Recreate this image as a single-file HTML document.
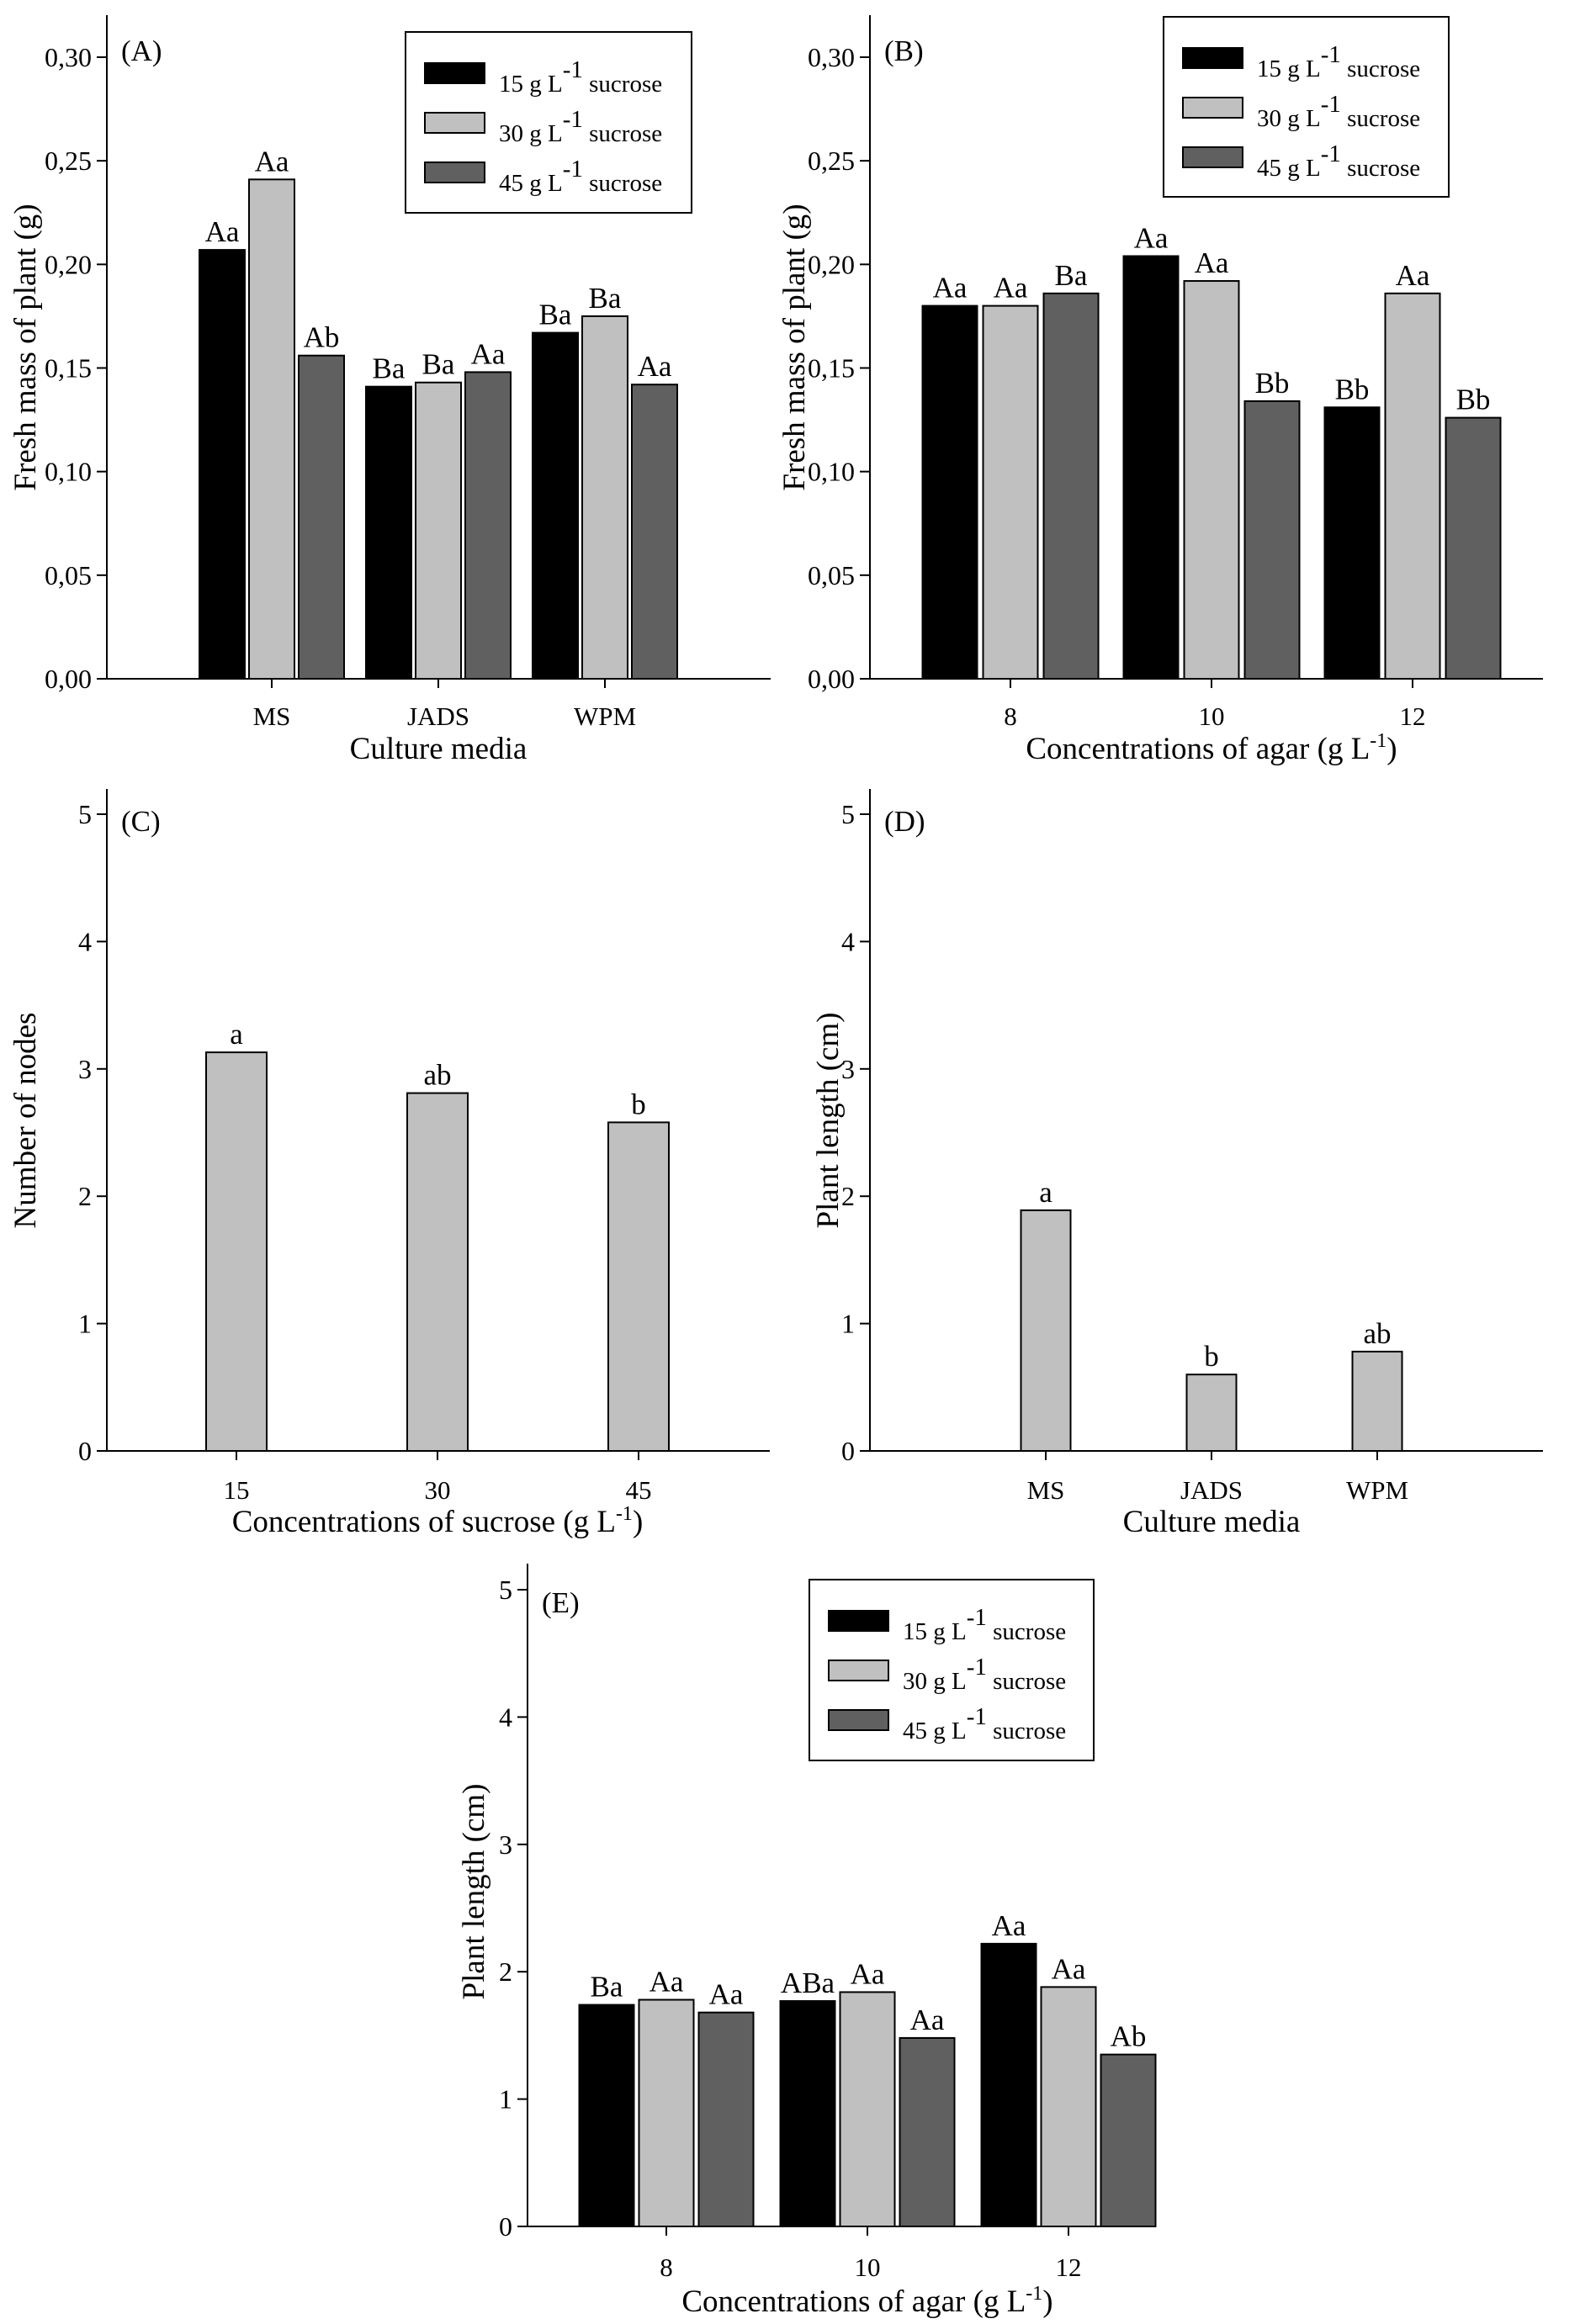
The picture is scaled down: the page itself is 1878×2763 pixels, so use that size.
<!DOCTYPE html>
<html><head><meta charset="utf-8"><style>
html,body{margin:0;padding:0;background:#fff}
svg{display:block;font-family:"Liberation Serif",serif}
</style></head><body>
<svg id="fig" width="1878" height="2763" viewBox="0 0 1878 2763" xmlns="http://www.w3.org/2000/svg"></svg>
<script>
// ---- data ----
const seriesNames = ["15 g L", "30 g L", "45 g L"];
const catsMedia = ["MS", "JADS", "WPM"];
const catsAgar = ["8", "10", "12"];
const catsSucrose = ["15", "30", "45"];
const ticksMass = ["0,00","0,05","0,10","0,15","0,20","0,25","0,30"];
const ticksInt = ["0","1","2","3","4","5"];
const aS15 = [0.207, 0.141, 0.167];
const aS30 = [0.241, 0.143, 0.175];
const aS45 = [0.156, 0.148, 0.142];
const aLbl15 = ["Aa","Ba","Ba"];
const aLbl30 = ["Aa","Ba","Ba"];
const aLbl45 = ["Ab","Aa","Aa"];
const bS15 = [0.180, 0.204, 0.131];
const bS30 = [0.180, 0.192, 0.186];
const bS45 = [0.186, 0.134, 0.126];
const bLbl15 = ["Aa","Aa","Bb"];
const bLbl30 = ["Aa","Aa","Aa"];
const bLbl45 = ["Ba","Bb","Bb"];
const cVals = [3.13, 2.81, 2.58];
const cLbl = ["a","ab","b"];
const dVals = [1.89, 0.60, 0.78];
const dLbl = ["a","b","ab"];
const eS15 = [1.74, 1.77, 2.22];
const eS30 = [1.78, 1.84, 1.88];
const eS45 = [1.68, 1.48, 1.35];
const eLbl15 = ["Ba","ABa","Aa"];
const eLbl30 = ["Aa","Aa","Aa"];
const eLbl45 = ["Aa","Aa","Ab"];

const NS = "http://www.w3.org/2000/svg";
const svg = document.getElementById("fig");
const fills = ["#000000", "#c0c0c0", "#606060"];
function mk(tag, attrs, parent) {
  const e = document.createElementNS(NS, tag);
  for (const k in attrs) e.setAttribute(k, attrs[k]);
  (parent || svg).appendChild(e);
  return e;
}
function txt(s, x, y, size, parent, anchor) {
  const t = mk("text", {x: x, y: y, "font-size": size, "text-anchor": anchor || "middle", fill: "#000"}, parent);
  t.textContent = s;
  return t;
}

function panel(p) {
  const g = mk("g", {});
  
  
  const yOf = v => p.y0 - (v - p.vmin) / (p.vmax - p.vmin) * (p.y0 - p.yTop);
  const ax = mk("g", {}, g);
  
  
  mk("line", {x1: p.x0, y1: p.axTop, x2: p.x0, y2: p.y0, stroke: "#000", "stroke-width": 2}, ax);
  mk("line", {x1: p.x0, y1: p.y0, x2: p.xEnd, y2: p.y0, stroke: "#000", "stroke-width": 2}, ax);
  p.ticks.forEach((lab, i) => {
    const v = p.vmin + i * (p.vmax - p.vmin) / (p.ticks.length - 1);
    const y = yOf(v);
    mk("line", {x1: p.x0 - 12, y1: y, x2: p.x0, y2: y, stroke: "#000", "stroke-width": 2}, ax);
    const t = txt(lab, p.x0 - 18, y + 11, 32, ax, "end");
    
    
  });
  p.cats.forEach((c, i) => {
    const x = p.cx0 + i * p.cdx;
    mk("line", {x1: x, y1: p.y0, x2: x, y2: p.y0 + 11, stroke: "#000", "stroke-width": 2}, ax);
    const t = txt(c, x, p.xtl, 31, ax);
    
    
  });
  const yt = txt(p.ytitle, 0, 0, 37, g);
  yt.setAttribute("transform", `translate(${p.ytx},${p.yty}) rotate(-90)`);
  
  
  const xt = mk("text", {x: p.cx0 + p.cdx, y: p.xty, "font-size": 37, "text-anchor": "middle"}, g);
  
  
  xt.appendChild(document.createTextNode(p.xtitle));
  if (p.xsup) {
    const s = mk("tspan", {dy: -14, "font-size": 24}, xt); s.textContent = "-1";
    const r = mk("tspan", {dy: 14}, xt); r.textContent = ")";
  }
  const pl = txt(p.plabel, p.x0 + 17, p.yTopLabel, 35, g, "start");
  
  
  const n = p.series.length;
  p.series.forEach((ser, si) => {
    ser.forEach((v, ci) => {
      const cx = p.cx0 + ci * p.cdx + (si - (n - 1) / 2) * p.pitch;
      const y = yOf(v);
      const r = mk("rect", {x: cx - p.bw / 2, y: y, width: p.bw, height: p.y0 - y,
        fill: p.colors[si], stroke: "#000", "stroke-width": 2}, g);
      
      
      const t = txt(p.labels[si][ci], cx, y - 10, 35, g);
      
      
    });
  });
  if (p.legend) {
    const L = p.legend;
    const lg = mk("g", {}, g);
    
    
    mk("rect", {x: L.x, y: L.y, width: L.w, height: L.h, fill: "#fff", stroke: "#000", "stroke-width": 2}, lg);
    seriesNames.forEach((s, i) => {
      const yy = L.y + i * 59;
      const sw = mk("rect", {x: L.x + 23, y: yy + 37, width: 71, height: 24, fill: fills[i], stroke: "#000", "stroke-width": 2}, lg);
      
      
      const t = mk("text", {x: L.x + 111, y: yy + 71, "font-size": 29}, lg);
      
      
      t.appendChild(document.createTextNode(s));
      const sp = mk("tspan", {dy: -17, "font-size": 29}, t); sp.textContent = "-1";
      const r = mk("tspan", {dy: 17, "font-size": 29}, t); r.textContent = " sucrose";
    });
  }
}

panel({name: "panel-a", x0: 127, xEnd: 916, axTop: 18, y0: 807, yTop: 68, vmin: 0, vmax: 0.30,
  ticks: ticksMass, cats: catsMedia, cx0: 323, cdx: 198, bw: 54, pitch: 59,
  series: [aS15, aS30, aS45], labels: [aLbl15, aLbl30, aLbl45], colors: fills,
  ytitle: "Fresh mass of plant (g)", ytx: 42, yty: 413, xtitle: "Culture media", xty: 902, xtl: 862,
  plabel: "(A)", yTopLabel: 72, legend: {x: 482, y: 38, w: 340, h: 215}});
panel({name: "panel-b", x0: 1034, xEnd: 1834, axTop: 18, y0: 807, yTop: 68, vmin: 0, vmax: 0.30,
  ticks: ticksMass, cats: catsAgar, cx0: 1201, cdx: 239, bw: 65, pitch: 72,
  series: [bS15, bS30, bS45], labels: [bLbl15, bLbl30, bLbl45], colors: fills,
  ytitle: "Fresh mass of plant (g)", ytx: 956, yty: 413, xtitle: "Concentrations of agar (g L", xsup: true, xty: 902, xtl: 862,
  plabel: "(B)", yTopLabel: 72, legend: {x: 1383, y: 20, w: 339, h: 214}});
panel({name: "panel-c", x0: 127, xEnd: 915, axTop: 938, y0: 1725, yTop: 968, vmin: 0, vmax: 5,
  ticks: ticksInt, cats: catsSucrose, cx0: 281, cdx: 239, bw: 72, pitch: 0,
  series: [cVals], labels: [cLbl], colors: ["#c0c0c0"],
  ytitle: "Number of nodes", ytx: 42, yty: 1332, xtitle: "Concentrations of sucrose  (g L", xsup: true, xty: 1821, xtl: 1782,
  plabel: "(C)", yTopLabel: 988});
panel({name: "panel-d", x0: 1034, xEnd: 1834, axTop: 938, y0: 1725, yTop: 968, vmin: 0, vmax: 5,
  ticks: ticksInt, cats: catsMedia, cx0: 1243, cdx: 197, bw: 59, pitch: 0,
  series: [dVals], labels: [dLbl], colors: ["#c0c0c0"],
  ytitle: "Plant length (cm)", ytx: 996, yty: 1332, xtitle: "Culture media", xty: 1821, xtl: 1782,
  plabel: "(D)", yTopLabel: 988});
panel({name: "panel-e", x0: 627, xEnd: 1374, axTop: 1859, y0: 2647, yTop: 1890, vmin: 0, vmax: 5,
  ticks: ticksInt, cats: catsAgar, cx0: 792, cdx: 239, bw: 65, pitch: 71,
  series: [eS15, eS30, eS45], labels: [eLbl15, eLbl30, eLbl45], colors: fills,
  ytitle: "Plant length (cm)", ytx: 575, yty: 2249, xtitle: "Concentrations of agar (g L", xsup: true, xty: 2748, xtl: 2706,
  plabel: "(E)", yTopLabel: 1917, legend: {x: 962, y: 1878, w: 338, h: 215}});
</script>
</body></html>
